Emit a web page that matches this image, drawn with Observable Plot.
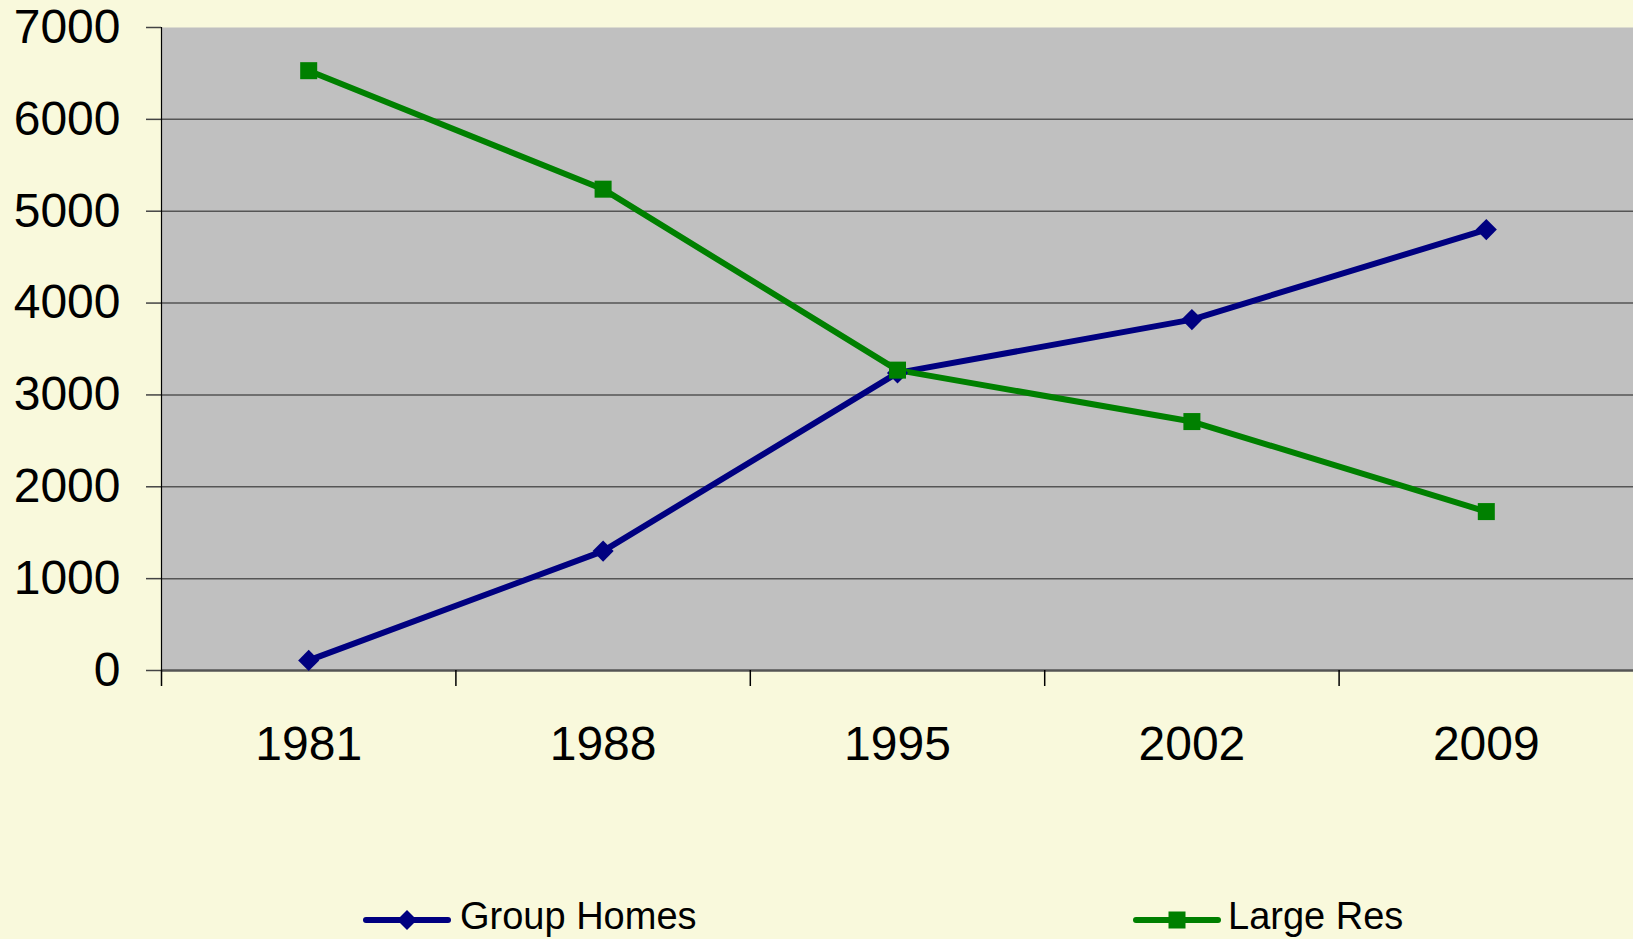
<!DOCTYPE html>
<html>
<head>
<meta charset="utf-8">
<script src="https://cdn.jsdelivr.net/npm/d3@7"></script>
<script src="https://cdn.jsdelivr.net/npm/@observablehq/plot@0.6"></script>
<style>
  html, body { margin: 0; padding: 0; background: #f9f9dc; }
  #wrap { position: relative; width: 1633px; height: 939px; overflow: hidden; background: #f9f9dc; font-family: "Liberation Sans", Arial, sans-serif; }
  #legend { position: absolute; left: 0; top: 870px; width: 1633px; height: 69px; }
  .item { position: absolute; top: 0; height: 69px; }
  .item svg { position: absolute; top: 0; left: 0; }
  .item span { position: absolute; font-size: 38px; color: #000; white-space: nowrap; top: 27px; line-height: 1; }
</style>
</head>
<body>
<div id="wrap">
  <div id="chart"></div>
  <div id="legend"></div>
</div>
<script>
const years = [1981, 1988, 1995, 2002, 2009];
const groupHomes = [110, 1300, 3240, 3820, 4800];
const largeRes = [6530, 5240, 3270, 2710, 1730];
const seriesNames = ["Group Homes", "Large Res"];
const seriesColors = ["#000080", "#008000"];
const yTicks = [0, 1000, 2000, 3000, 4000, 5000, 6000, 7000];
const gridTicks = [1000, 2000, 3000, 4000, 5000, 6000];

const gh = years.map((y, i) => ({year: y, value: groupHomes[i]}));
const lr = years.map((y, i) => ({year: y, value: largeRes[i]}));
const step = years[1] - years[0];
const bounds = years.map(y => y - step / 2);

const plot = Plot.plot({
  width: 1633,
  height: 870,
  marginLeft: 161,
  marginRight: 0,
  marginTop: 27,
  marginBottom: 200,
  style: {background: "transparent", fontFamily: "'Liberation Sans', Arial, sans-serif", color: "#000"},
  x: {domain: [years[0] - step / 2, years[years.length - 1] + step / 2]},
  y: {domain: [0, 7000]},
  marks: [
    Plot.frame({fill: "#c0c0c0", stroke: null}),
    Plot.ruleY(gridTicks, {stroke: "#555", strokeWidth: 1.5}),
    Plot.ruleY([0], {stroke: "#555", strokeWidth: 2.5}),
    Plot.axisY({ticks: yTicks, tickSize: 15, tickPadding: 26, fontSize: 48, tickFormat: d => String(d), label: null, stroke: "#444", strokeWidth: 1.5}),
    Plot.axisX({ticks: bounds, tickSize: 16, tickFormat: () => "", label: null, stroke: "#000", strokeWidth: 1.5}),
    Plot.axisX({ticks: years, tickSize: 0, tickPadding: 55, fontSize: 48, tickFormat: d => String(d), label: null}),
    Plot.ruleX([bounds[0]], {y1: 0, y2: 7000, stroke: "#000", strokeWidth: 1.2}),
    Plot.line(gh, {x: "year", y: "value", stroke: seriesColors[0], strokeWidth: 6}),
    Plot.line(lr, {x: "year", y: "value", stroke: seriesColors[1], strokeWidth: 6}),
    Plot.dot(gh, {x: "year", y: "value", symbol: "diamond2", r: 9.5, fill: seriesColors[0], stroke: null}),
    Plot.dot(lr, {x: "year", y: "value", symbol: "square", r: 9.6, fill: seriesColors[1], stroke: null})
  ]
});
document.getElementById("chart").appendChild(plot);

// Legend
const legend = document.getElementById("legend");
const legendLeft = [362, 1132];
seriesNames.forEach((name, i) => {
  const item = document.createElement("div");
  item.className = "item";
  item.style.left = legendLeft[i] + "px";
  const marker = i === 0
    ? `<path d="M45,40 L55,50 L45,60 L35,50 Z" fill="${seriesColors[i]}"/>`
    : `<rect x="36.5" y="41.5" width="17" height="17" fill="${seriesColors[i]}"/>`;
  item.innerHTML = `<svg width="96" height="69"><line x1="4" y1="50" x2="86" y2="50" stroke="${seriesColors[i]}" stroke-width="6" stroke-linecap="round"/>${marker}</svg><span style="left:${i === 0 ? 98 : 96}px">${name}</span>`;
  legend.appendChild(item);
});
</script>
</body>
</html>
